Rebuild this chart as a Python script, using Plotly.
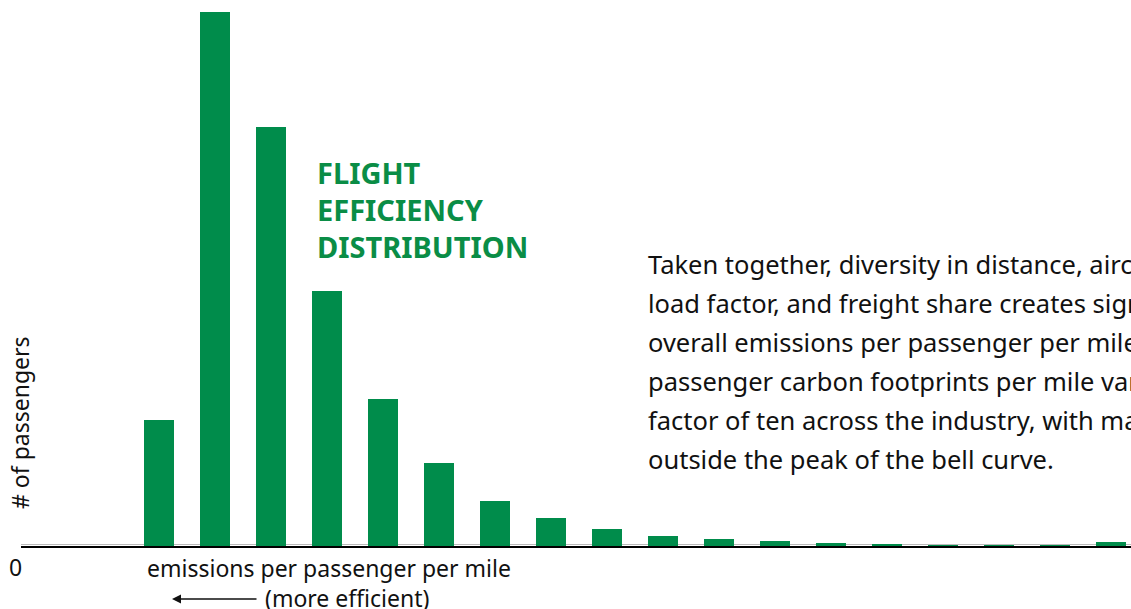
import plotly.graph_objects as go

W, H = 1131, 609
BASE = 546  # pixel row of baseline

bins = list(range(18))
passengers = [126, 534, 419, 255, 147, 83, 45, 28, 17, 10, 7, 5, 3, 2, 1, 1, 1, 4]

title_lines = ["FLIGHT", "EFFICIENCY", "DISTRIBUTION"]
para_lines = [
    "Taken together, diversity in distance, aircraft,",
    "load factor, and freight share creates significant",
    "overall emissions per passenger per mile. Indeed,",
    "passenger carbon footprints per mile vary by a",
    "factor of ten across the industry, with many flights",
    "outside the peak of the bell curve.",
]
x_label = "emissions per passenger per mile"
x_note = "(more efficient)"
y_label = "# of passengers"

GREEN = "#008C4B"
TGREEN = "#0A8D46"
FONT = "Noto Sans"

def px(x):
    return x / W

def py(y):
    return (BASE - y) / BASE

fig = go.Figure()
fig.add_trace(go.Bar(x=bins, y=passengers, width=30 / 56, marker=dict(color=GREEN, line=dict(width=0)),
                     hoverinfo="skip"))

ann = []
for i, t in enumerate(title_lines):
    ann.append(dict(x=px(315), y=py(172 + 37.5 * i), xref="paper", yref="paper", text="<b>%s</b>" % t,
                    showarrow=False, xanchor="left", yanchor="middle",
                    font=dict(family=FONT, size=29, color=TGREEN)))
for i, t in enumerate(para_lines):
    ann.append(dict(x=px(646), y=py(264 + 39 * i), xref="paper", yref="paper", text=t,
                    showarrow=False, xanchor="left", yanchor="middle",
                    font=dict(family=FONT, size=25.5, color="#111111")))
ann.append(dict(x=px(329), y=py(568), xref="paper", yref="paper", text=x_label, showarrow=False,
                xanchor="center", yanchor="middle", font=dict(family=FONT, size=23, color="#111111")))
ann.append(dict(x=px(263), y=py(598), xref="paper", yref="paper", text=x_note, showarrow=False,
                xanchor="left", yanchor="middle", font=dict(family=FONT, size=23, color="#111111")))
ann.append(dict(x=px(15), y=py(567), xref="paper", yref="paper", text="0", showarrow=False,
                xanchor="center", yanchor="middle", font=dict(family=FONT, size=23, color="#111111")))
ann.append(dict(x=px(20), y=py(423), xref="paper", yref="paper", text=y_label, showarrow=False,
                textangle=-90, xanchor="center", yanchor="middle",
                font=dict(family=FONT, size=23, color="#111111")))
# arrow
ann.append(dict(x=px(172), y=py(599), xref="paper", yref="paper", ax=86, ay=0,
                axref="pixel", ayref="pixel", text="", showarrow=True, arrowhead=2,
                arrowsize=1.2, arrowwidth=1.5, arrowcolor="#111111"))

fig.update_layout(
    width=W, height=H,
    margin=dict(l=0, r=0, t=0, b=H - BASE),
    paper_bgcolor="white", plot_bgcolor="white",
    showlegend=False,
    bargap=0,
    xaxis=dict(domain=[21 / W, 1], range=[-2.464, 17.357], showgrid=False, zeroline=False,
               showticklabels=False, ticks="", showline=True, linecolor="#000000", linewidth=2),
    yaxis=dict(range=[0, BASE], showgrid=False, zeroline=False, showticklabels=False,
               ticks="", showline=False),
    annotations=ann,
    shapes=[dict(type="line", xref="paper", yref="paper", x0=px(21), x1=1, y0=py(544.5), y1=py(544.5),
                 line=dict(color="#BBBBBB", width=1), layer="below")],
)

fig.write_html("out.html", config={"displayModeBar": False},
               post_script="document.body.style.margin='0';document.body.style.overflow='hidden';")
